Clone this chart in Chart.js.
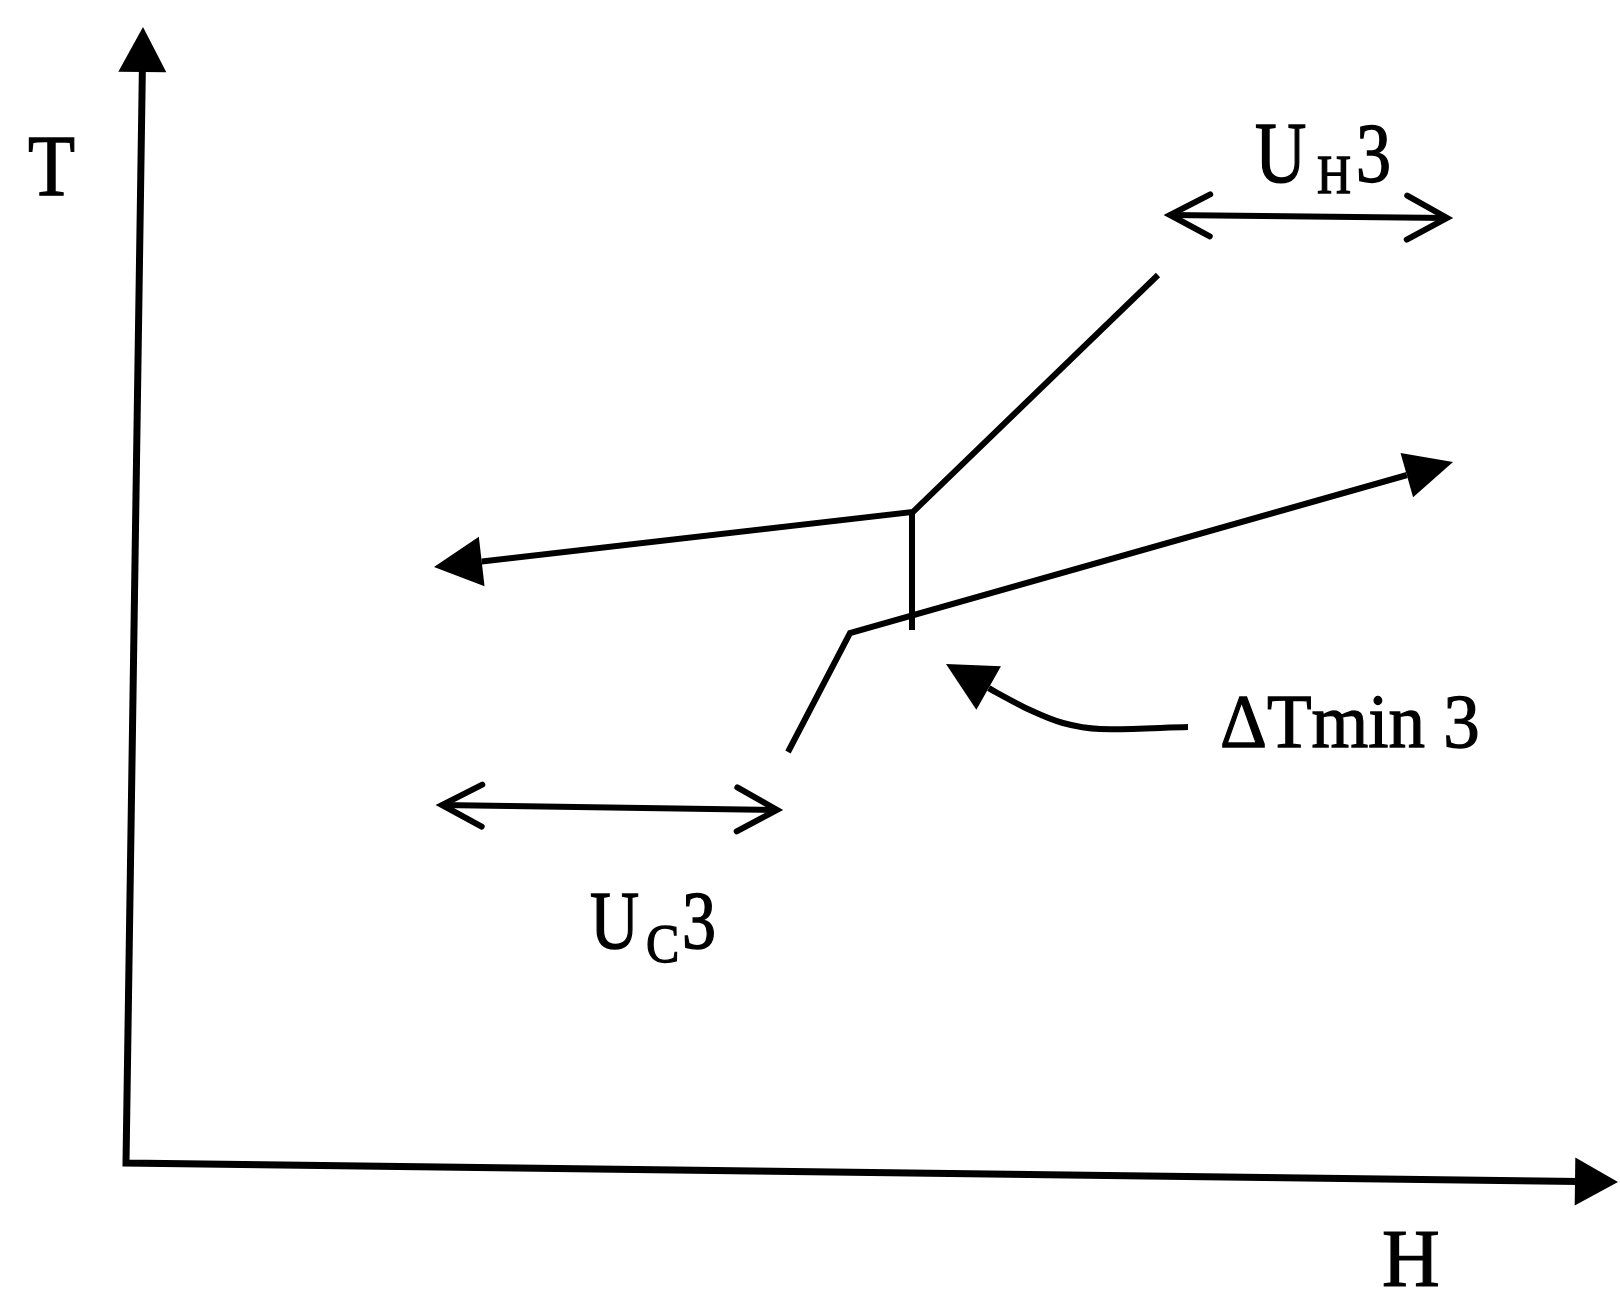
<!DOCTYPE html>
<html><head><meta charset="utf-8">
<script src="https://cdn.jsdelivr.net/npm/chart.js@4/dist/chart.umd.min.js"></script>
<style>html,body{margin:0;padding:0;background:#fff;overflow:hidden}canvas{display:block}</style>
</head><body>
<canvas id="c" width="1620" height="1289" style="width:1620px;height:1289px"></canvas>
<script>
// ---- Schematic data (H = enthalpy units, T = temperature units) ----
const axisH = [143, 126, 1618];
const axisT = [1262, 126, 107];
const hotH = [1158, 913, 434];
const hotT = [1014, 777, 722];
const dtminH = [912, 912];
const dtminT = [777, 659];
const coldH = [788, 850, 1453];
const coldT = [537, 656, 827];
const uh3H = [1170, 1447];
const uh3T = [1074, 1071];
const uc3H = [442, 777];
const uc3T = [484, 479];
const pointerH = [1188, 1100, 1063, 1030, 992, 946];
const pointerT = [562, 560, 566, 579, 599, 625];

// ---- Text labels ----
const axisLabels = ['T', 'H'];
const uh3Label = ['U', 'H', '3'];
const uc3Label = ['U', 'C', '3'];
const dtminLabel = 'ΔTmin 3';

// label layout (anchor in H/T units, font size, vertical stretch)
const labelLayout = [
  { text: axisLabels[0], h: 28, t: 1094, size: 77, sy: 1.12 },
  { text: axisLabels[1], h: 1382, t: 3, size: 80, sy: 1.04 },
  { text: uh3Label[0], h: 1255, t: 1107, size: 71, sy: 1.22 },
  { text: uh3Label[1], h: 1317, t: 1096, size: 47, sy: 1.16 },
  { text: uh3Label[2], h: 1356, t: 1107, size: 70, sy: 1.22 },
  { text: uc3Label[0], h: 590, t: 341, size: 68, sy: 1.2 },
  { text: uc3Label[1], h: 646, t: 327, size: 50, sy: 1.08 },
  { text: uc3Label[2], h: 682, t: 341, size: 68, sy: 1.2 },
  { text: dtminLabel, h: 1220, t: 542, size: 73, sy: 1.05 }
];

const pts = (hs, ts) => hs.map((h, i) => ({ x: h, y: ts[i] }));

function headGeoms(chart, ds) {
  const xs = chart.scales.x, ys = chart.scales.y;
  const p = ds.data.map(d => ({ x: xs.getPixelForValue(d.x), y: ys.getPixelForValue(d.y) }));
  const n = p.length, out = [];
  const mk = (a, b, spec) => {
    const dx = b.x - a.x, dy = b.y - a.y;
    const L = Math.hypot(dx, dy) || 1;
    const ux = dx / L, uy = dy / L;
    out.push({ tip: b, ux, uy, nx: -uy, ny: ux, spec });
  };
  if (ds.headEnd) mk(p[n - 2], p[n - 1], ds.headEnd);
  if (ds.headStart) mk(p[1], p[0], ds.headStart);
  return out;
}

function drawHead(ctx, g) {
  const s = g.spec;
  const bx = g.tip.x - g.ux * s.len, by = g.tip.y - g.uy * s.len;
  ctx.save();
  ctx.fillStyle = '#000';
  ctx.strokeStyle = '#000';
  ctx.beginPath();
  ctx.moveTo(bx + g.nx * s.half, by + g.ny * s.half);
  ctx.lineTo(g.tip.x, g.tip.y);
  ctx.lineTo(bx - g.nx * s.half, by - g.ny * s.half);
  if (s.type === 'filled') {
    ctx.closePath();
    ctx.fill();
  } else {
    ctx.lineWidth = s.width || 6;
    ctx.lineJoin = 'miter';
    ctx.lineCap = 'round';
    ctx.stroke();
  }
  ctx.restore();
}

function drawText(ctx, str, x, y, size, sy) {
  ctx.save();
  ctx.translate(x, y);
  ctx.scale(1, sy);
  ctx.font = size + 'px "Liberation Serif", "Times New Roman", "DejaVu Serif", serif';
  ctx.textBaseline = 'alphabetic';
  ctx.textAlign = 'left';
  ctx.fillStyle = '#000';
  ctx.strokeStyle = '#000';
  ctx.lineWidth = 1.2;
  ctx.fillText(str, 0, 0);
  ctx.strokeText(str, 0, 0);
  ctx.restore();
}

let clipped = {};
const decorPlugin = {
  id: 'decor',
  beforeDatasetDraw(chart, args) {
    const ds = chart.data.datasets[args.index];
    const heads = headGeoms(chart, ds).filter(g => g.spec.type === 'filled');
    if (!heads.length) return;
    const ctx = chart.ctx;
    ctx.save();
    ctx.beginPath();
    ctx.rect(0, 0, chart.width, chart.height);
    heads.forEach(g => {
      const s = g.spec, ext = 14;
      const f = (s.len + ext) / s.len;
      const ax = g.tip.x + g.ux * ext, ay = g.tip.y + g.uy * ext;
      const bx = g.tip.x - g.ux * s.len, by = g.tip.y - g.uy * s.len;
      const hh = s.half * f;
      ctx.moveTo(bx + g.nx * hh, by + g.ny * hh);
      ctx.lineTo(ax, ay);
      ctx.lineTo(bx - g.nx * hh, by - g.ny * hh);
      ctx.closePath();
    });
    ctx.clip('evenodd');
    clipped[args.index] = true;
  },
  afterDatasetDraw(chart, args) {
    if (clipped[args.index]) {
      chart.ctx.restore();
      clipped[args.index] = false;
    }
  },
  afterDatasetsDraw(chart) {
    const ctx = chart.ctx, xs = chart.scales.x, ys = chart.scales.y;
    chart.data.datasets.forEach(ds => headGeoms(chart, ds).forEach(g => drawHead(ctx, g)));
    labelLayout.forEach(l => {
      drawText(ctx, l.text, xs.getPixelForValue(l.h), ys.getPixelForValue(l.t), l.size, l.sy);
    });
  }
};

const base = { showLine: true, pointRadius: 0, pointHoverRadius: 0, borderColor: '#000', backgroundColor: '#000', fill: false, tension: 0, clip: false, borderJoinStyle: 'miter' };

new Chart(document.getElementById('c'), {
  type: 'scatter',
  data: {
    datasets: [
      Object.assign({}, base, { label: 'axes', data: pts(axisH, axisT), borderWidth: 7,
        headStart: { type: 'filled', len: 45, half: 24 }, headEnd: { type: 'filled', len: 43, half: 24 } }),
      Object.assign({}, base, { label: 'hot', data: pts(hotH, hotT), borderWidth: 6,
        headEnd: { type: 'filled', len: 48, half: 25 } }),
      Object.assign({}, base, { label: 'dtmin', data: pts(dtminH, dtminT), borderWidth: 6 }),
      Object.assign({}, base, { label: 'cold', data: pts(coldH, coldT), borderWidth: 6,
        headEnd: { type: 'filled', len: 48, half: 23 } }),
      Object.assign({}, base, { label: 'UH3', data: pts(uh3H, uh3T), borderWidth: 6,
        headStart: { type: 'open', len: 40, half: 21, width: 6 }, headEnd: { type: 'open', len: 40, half: 22, width: 6 } }),
      Object.assign({}, base, { label: 'UC3', data: pts(uc3H, uc3T), borderWidth: 6,
        headStart: { type: 'open', len: 40, half: 21, width: 6 }, headEnd: { type: 'open', len: 40, half: 22, width: 6 } }),
      Object.assign({}, base, { label: 'pointer', data: pts(pointerH, pointerT), borderWidth: 6, tension: 0.3,
        headEnd: { type: 'filled', len: 49, half: 25 } })
    ]
  },
  options: {
    responsive: false,
    animation: false,
    devicePixelRatio: 1,
    layout: { padding: 0 },
    plugins: { legend: { display: false }, tooltip: { enabled: false } },
    events: [],
    scales: {
      x: { type: 'linear', display: false, min: 0, max: 1620 },
      y: { type: 'linear', display: false, min: 0, max: 1289 }
    }
  },
  plugins: [decorPlugin]
});
</script>
</body></html>
